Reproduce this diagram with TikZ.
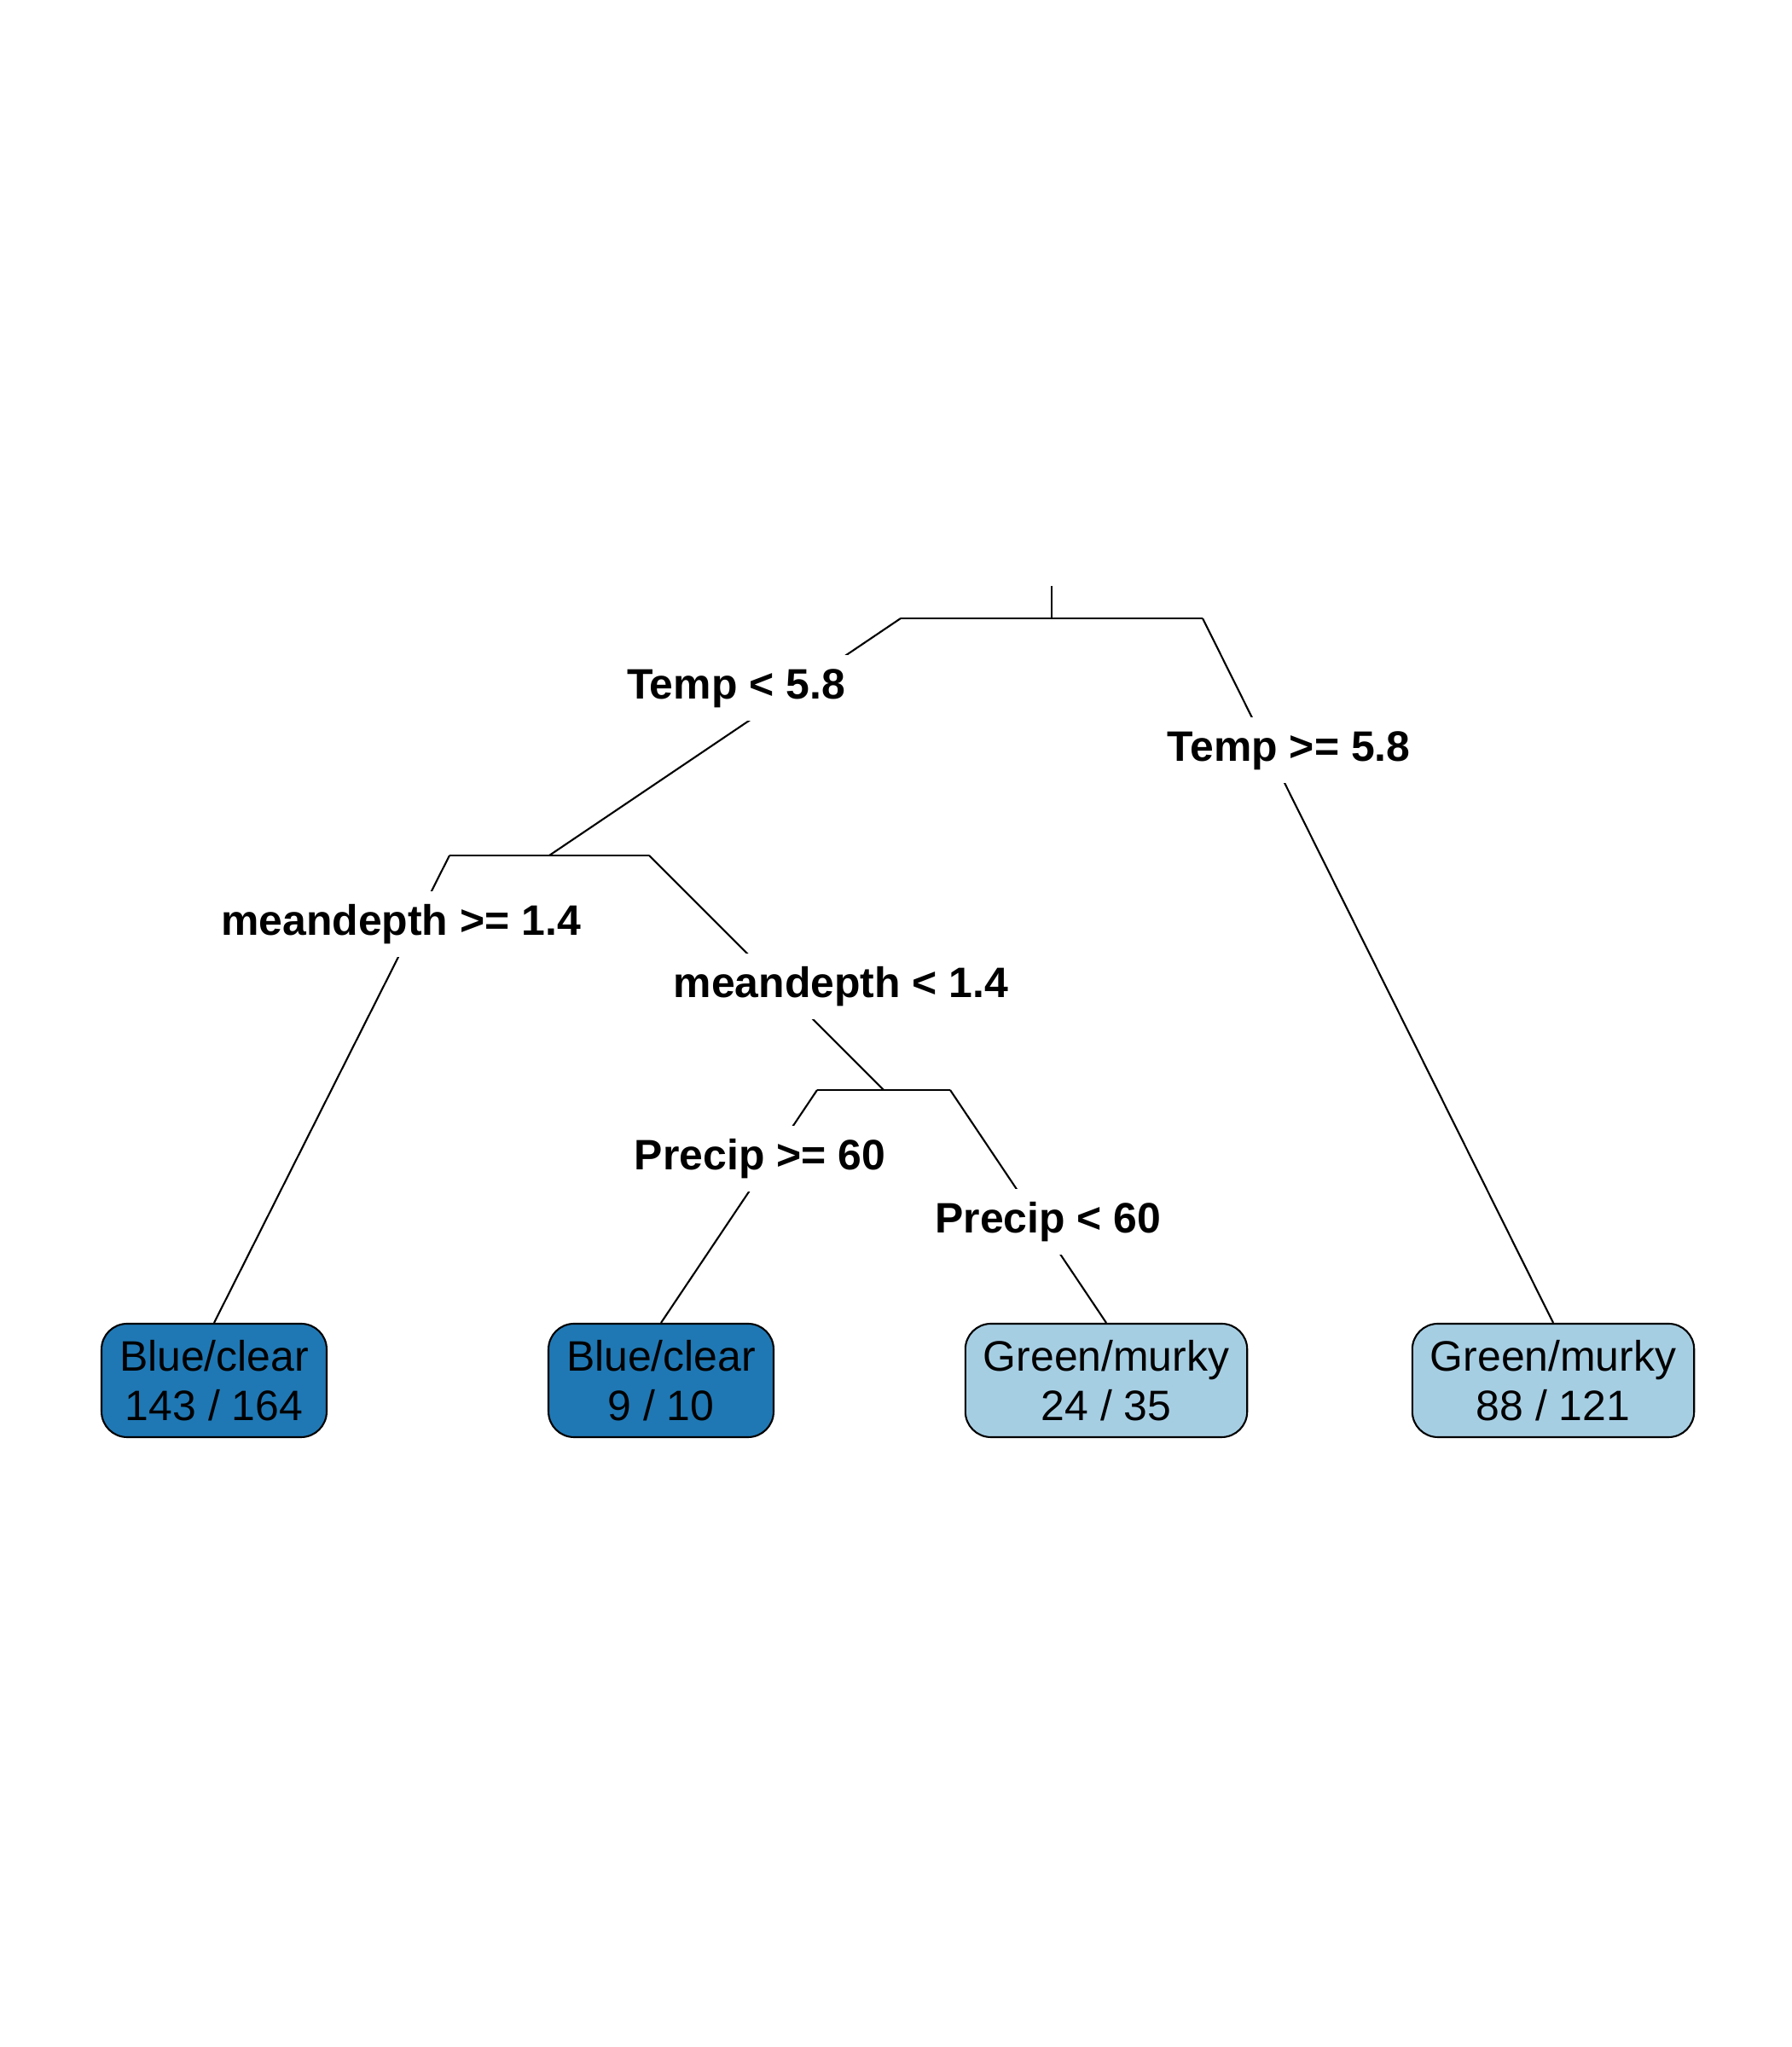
\documentclass[tikz,border=0pt]{standalone}
\usepackage{fontspec}
\setmainfont{Liberation Sans}
\definecolor{darkblue}{HTML}{1F78B4}
\definecolor{lightblue}{HTML}{A6CEE3}
\begin{document}
\begin{tikzpicture}[leaf/.style = {rectangle, draw, rounded corners=0.3cm, minimum height=1.33cm, inner xsep=0.21cm, align=center},
                    split/.style = {fill=white, inner xsep=1pt, inner ysep=0pt, minimum height=0.77cm, font=\fontsize{14.2pt}{16.5pt}\selectfont\bfseries},
                    line width=0.6pt, font=\fontsize{14.2pt}{16.5pt}\selectfont]
  \useasboundingbox (0, 0) rectangle (21, 24);

  % Split points.
  \coordinate (top) at (12.33, 17.13);
  \coordinate (n1) at (12.33, 16.75);
  \coordinate (n1l) at (10.56, 16.75);
  \coordinate (n1r) at (14.10, 16.75);
  \coordinate (n2) at (6.44, 13.97);
  \coordinate (n2l) at (5.27, 13.97);
  \coordinate (n2r) at (7.61, 13.97);
  \coordinate (n3) at (10.36, 11.22);
  \coordinate (n3l) at (9.58, 11.22);
  \coordinate (n3r) at (11.14, 11.22);

  % Leaves.
  \node at (2.51, 7.815) [leaf, fill=darkblue, name=BlueClearA] {Blue/clear\\143 / 164};
  \node at (7.75, 7.815) [leaf, fill=darkblue, name=BlueClearB] {Blue/clear\\9 / 10};
  \node at (12.97, 7.815) [leaf, fill=lightblue, name=GreenMurkyA] {Green/murky\\24 / 35};
  \node at (18.21, 7.815) [leaf, fill=lightblue, name=GreenMurkyB] {Green/murky\\88 / 121};

  % Branches.
  \draw (top) -- (n1);
  \draw (n1l) -- (n1r);
  \draw (n2l) -- (n2r);
  \draw (n3l) -- (n3r);
  \draw (n1l) -- (n2);
  \draw (n1r) -- (GreenMurkyB.north);
  \draw (n2l) -- (BlueClearA.north);
  \draw (n2r) -- (n3);
  \draw (n3l) -- (BlueClearB.north);
  \draw (n3r) -- (GreenMurkyA.north);

  % Split labels.
  \node at (8.63, 15.93) [split, name=TempLow] {Temp < 5.8};
  \node at (15.11, 15.20) [split, name=TempHigh] {Temp >= 5.8};
  \node at (4.70, 13.16) [split, name=DepthHigh] {meandepth >= 1.4};
  \node at (9.86, 12.43) [split, name=DepthLow] {meandepth < 1.4};
  \node at (8.91, 10.41) [split, name=PrecipHigh] {Precip >= 60};
  \node at (12.29, 9.67) [split, name=PrecipLow] {Precip < 60};
\end{tikzpicture}
\end{document}
